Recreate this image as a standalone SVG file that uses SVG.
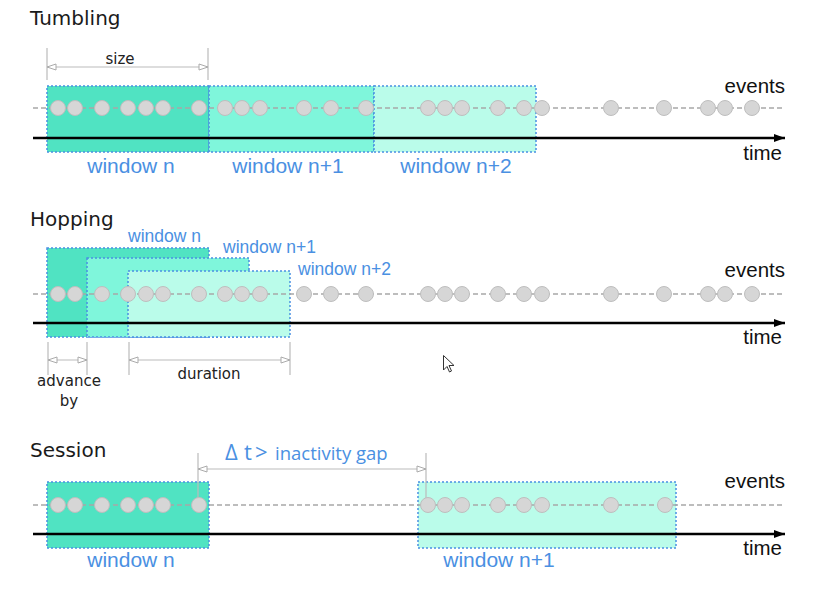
<svg xmlns="http://www.w3.org/2000/svg" width="832" height="608" viewBox="0 0 832 608">
<defs>
<style>
.title{font-family:"DejaVu Sans",sans-serif;font-size:20px;fill:#1a1a1a}
.lbl{font-family:"Liberation Sans",Arial,sans-serif;fill:#4A90E2}
.wl{font-size:21px;text-anchor:middle}
.hl{font-size:17.5px}
.axt{font-family:"Liberation Sans",Arial,sans-serif;font-size:20.5px;fill:#111;text-anchor:end}
.dim{font-family:"DejaVu Sans",sans-serif;font-size:15px;fill:#222;text-anchor:middle}
.gap{font-family:"Open Sans",sans-serif;font-size:18.5px;fill:#4A90E2}
.w0{fill:#50E3C2}
.w1{fill:#7FF6DB}
.w2{fill:#BAFCEA}
.win{stroke:#4A90E2;stroke-width:1.5;stroke-dasharray:2 2}
.ev{stroke:#A8A8A8;stroke-width:1.5;stroke-dasharray:5 3;fill:none}
.axl{stroke:#000;stroke-width:2.5;marker-end:url(#ah)}
.dl{stroke:#BBB;stroke-width:1;fill:none;marker-start:url(#da);marker-end:url(#da)}
.dt{stroke:#BBB;stroke-width:1.2}
circle{fill:#D6D6D6;stroke:#BEBEBE;stroke-width:1}
</style>
<marker id="ah" markerWidth="12" markerHeight="10" refX="11" refY="5" orient="auto" markerUnits="userSpaceOnUse"><path d="M0,1 L11,5 L0,9 z" fill="#000"/></marker>
<marker id="da" markerWidth="12" markerHeight="10" refX="10" refY="4" orient="auto-start-reverse" markerUnits="userSpaceOnUse"><path d="M1,1 L10,4 L1,7 z" fill="#fff" stroke="#AAA" stroke-width="1"/></marker>
</defs>
<rect width="832" height="608" fill="#fff"/>

<!-- Tumbling -->
<g id="tumbling">
<text class="title" x="30" y="25" font-size="20.5px">Tumbling</text>
<g id="t-win-n"><rect class="w0 win" x="47" y="86" width="162" height="66"/><text class="lbl wl" x="131" y="173">window n</text></g>
<g id="t-win-n1"><rect class="w1 win" x="209" y="86" width="165" height="66"/><text class="lbl wl" x="288" y="173">window n+1</text></g>
<g id="t-win-n2"><rect class="w2 win" x="374" y="86" width="162" height="66"/><text class="lbl wl" x="456" y="173">window n+2</text></g>
<text class="dim" x="120" y="64">size</text>
<text class="axt" x="785" y="93">events</text>
<text class="axt" x="782" y="160">time</text>
</g>

<!-- Hopping -->
<g id="hopping">
<text class="title" x="30" y="226">Hopping</text>
<g id="h-win-n"><rect class="w0 win" x="47" y="248" width="162" height="89"/><text class="lbl hl" x="128" y="242">window n</text></g>
<g id="h-win-n1"><rect class="w1 win" x="87" y="258" width="162" height="79"/><text class="lbl hl" x="223" y="253">window n+1</text></g>
<g id="h-win-n2"><rect class="w2 win" x="128" y="271" width="162" height="66"/><text class="lbl hl" x="298" y="275">window n+2</text></g>
<text class="dim" x="69" y="386">advance</text>
<text class="dim" x="69" y="406">by</text>
<text class="dim" x="209" y="379">duration</text>
<text class="axt" x="785" y="277">events</text>
<text class="axt" x="782" y="344">time</text>
</g>

<!-- Session -->
<g id="session">
<text class="title" x="30" y="457">Session</text>
<g id="s-win-n"><rect class="w0 win" x="47" y="482" width="162" height="66"/><text class="lbl wl" x="131" y="567">window n</text></g>
<g id="s-win-n1"><rect class="w2 win" x="418" y="482" width="258" height="66"/><text class="lbl wl" x="499" y="567">window n+1</text></g>
<text class="gap" y="460"><tspan x="225" font-size="22px">Δ</tspan><tspan x="244" font-size="22px">t</tspan><tspan x="255" font-size="22px">&gt;</tspan><tspan x="275">inactivity gap</tspan></text>
<text class="axt" x="785" y="488">events</text>
<text class="axt" x="782" y="555">time</text>
</g>

<!-- connectors -->
<g id="connectors">
<line class="ev" x1="33" y1="108" x2="785" y2="108"/>
<line class="ev" x1="33" y1="294" x2="785" y2="294"/>
<line class="ev" x1="33" y1="505" x2="785" y2="505"/>
<line class="axl" x1="33" y1="138" x2="785" y2="138"/>
<line class="axl" x1="33" y1="323" x2="785" y2="323"/>
<line class="axl" x1="33" y1="534" x2="785" y2="534"/>
<line class="dt" x1="47" y1="48" x2="47" y2="80"/>
<line class="dt" x1="208" y1="48" x2="208" y2="80"/>
<line class="dl" x1="47" y1="67" x2="208" y2="67"/>
<line class="dt" x1="48" y1="342" x2="48" y2="375"/>
<line class="dt" x1="87" y1="342" x2="87" y2="375"/>
<line class="dl" x1="48" y1="360" x2="87" y2="360"/>
<line class="dt" x1="129" y1="342" x2="129" y2="375"/>
<line class="dt" x1="290" y1="342" x2="290" y2="375"/>
<line class="dl" x1="129" y1="360" x2="290" y2="360"/>
<line class="dt" x1="198" y1="453" x2="198" y2="498"/>
<line class="dt" x1="426" y1="453" x2="426" y2="498"/>
<line class="dl" x1="198" y1="469" x2="426" y2="469"/>
</g>

<g id="events-tumbling">
<circle cx="58" cy="108" r="7.5"/><circle cx="75" cy="108" r="7.5"/><circle cx="102" cy="108" r="7.5"/><circle cx="128" cy="108" r="7.5"/><circle cx="146" cy="108" r="7.5"/><circle cx="163" cy="108" r="7.5"/><circle cx="199" cy="108" r="7.5"/><circle cx="225" cy="108" r="7.5"/><circle cx="242" cy="108" r="7.5"/><circle cx="260" cy="108" r="7.5"/><circle cx="304" cy="108" r="7.5"/><circle cx="331" cy="108" r="7.5"/><circle cx="366" cy="108" r="7.5"/><circle cx="428" cy="108" r="7.5"/><circle cx="445" cy="108" r="7.5"/><circle cx="462" cy="108" r="7.5"/><circle cx="498" cy="108" r="7.5"/><circle cx="524" cy="108" r="7.5"/><circle cx="542" cy="108" r="7.5"/><circle cx="611" cy="108" r="7.5"/><circle cx="664" cy="108" r="7.5"/><circle cx="708" cy="108" r="7.5"/><circle cx="725" cy="108" r="7.5"/><circle cx="752" cy="108" r="7.5"/>
</g>
<g id="events-hopping">
<circle cx="58" cy="294" r="7.5"/><circle cx="75" cy="294" r="7.5"/><circle cx="102" cy="294" r="7.5"/><circle cx="128" cy="294" r="7.5"/><circle cx="146" cy="294" r="7.5"/><circle cx="163" cy="294" r="7.5"/><circle cx="199" cy="294" r="7.5"/><circle cx="225" cy="294" r="7.5"/><circle cx="242" cy="294" r="7.5"/><circle cx="260" cy="294" r="7.5"/><circle cx="304" cy="294" r="7.5"/><circle cx="331" cy="294" r="7.5"/><circle cx="366" cy="294" r="7.5"/><circle cx="428" cy="294" r="7.5"/><circle cx="445" cy="294" r="7.5"/><circle cx="462" cy="294" r="7.5"/><circle cx="498" cy="294" r="7.5"/><circle cx="524" cy="294" r="7.5"/><circle cx="542" cy="294" r="7.5"/><circle cx="611" cy="294" r="7.5"/><circle cx="664" cy="294" r="7.5"/><circle cx="708" cy="294" r="7.5"/><circle cx="725" cy="294" r="7.5"/><circle cx="752" cy="294" r="7.5"/>
</g>
<g id="events-session">
<circle cx="58" cy="505" r="7.5"/><circle cx="75" cy="505" r="7.5"/><circle cx="102" cy="505" r="7.5"/><circle cx="128" cy="505" r="7.5"/><circle cx="146" cy="505" r="7.5"/><circle cx="163" cy="505" r="7.5"/><circle cx="199" cy="505" r="7.5"/><circle cx="428" cy="505" r="7.5"/><circle cx="445" cy="505" r="7.5"/><circle cx="462" cy="505" r="7.5"/><circle cx="498" cy="505" r="7.5"/><circle cx="524" cy="505" r="7.5"/><circle cx="542" cy="505" r="7.5"/><circle cx="611" cy="505" r="7.5"/><circle cx="665" cy="505" r="7.5"/>
</g>

<path id="cursor" d="M443.5,355.5 L443.5,370 L447,366.5 L449.5,372 L451.5,371 L449,365.5 L454,365.5 Z" fill="#fff" stroke="#333" stroke-width="1" stroke-linejoin="round"/>
</svg>
